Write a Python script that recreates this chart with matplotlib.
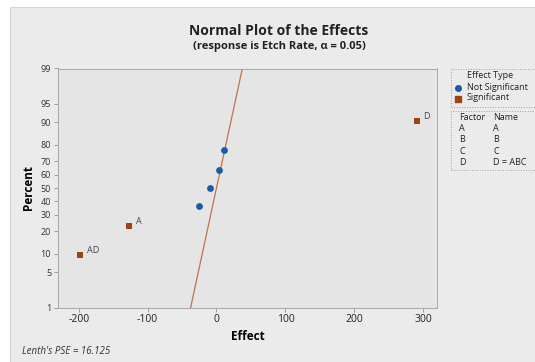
import matplotlib
matplotlib.use("Agg")
from matplotlib import pyplot as plt
from matplotlib.patches import Rectangle
from statistics import NormalDist

# data
terms = ["AD", "A", "AC", "AB", "B", "C", "D"]
effects = [-197.5, -127.0, -25.5, -10.0, 4.0, 11.5, 290.5]
percents = [9.5, 23.0, 36.5, 50.0, 63.5, 77.0, 90.5]
significant = [True, True, False, False, False, False, True]
lenth_pse = 16.125
y_ticks = [1, 5, 10, 20, 30, 40, 50, 60, 70, 80, 90, 95, 99]
x_ticks = [-200, -100, 0, 100, 200, 300]
factors = ["A", "B", "C", "D"]
names = ["A", "B", "C", "D = ABC"]

nd = NormalDist()
z = lambda p: nd.inv_cdf(p / 100.0)

plt.rcParams['font.family'] = ['Open Sans', 'DejaVu Sans']

W, H = 535, 362
fig = plt.figure(figsize=(W / 100, H / 100), dpi=100, facecolor='white')

def fx(px):
    return px / W

def fy(py):
    return 1 - py / H

# grey panel
fig.patches.append(Rectangle((fx(10), 0), 1, fy(7), transform=fig.transFigure,
                             facecolor='#ebebeb', edgecolor='#d0d0d0', lw=0.6, zorder=-5))

ax = fig.add_axes([fx(58), fy(307.5), fx(437) - fx(58), fy(68.5) - fy(307.5)])
ax.set_zorder(2)
ax.set_facecolor('#e5e5e5')

blue = '#1a5aa8'
brown = '#9e4312'

for e, p, s, t in zip(effects, percents, significant, terms):
    if s:
        ax.scatter(e, z(p), marker='s', s=22, color=brown, zorder=3, linewidths=0)
        ax.annotate(t, (e, z(p)), xytext=(5, 0), textcoords='offset points',
                    fontsize=6.5, color='#444444', va='bottom')
    else:
        ax.scatter(e, z(p), marker='o', s=24, color=blue, zorder=3, linewidths=0)

# reference line: effect = PSE * z
z_lo, z_hi = z(y_ticks[0]), z(y_ticks[-1])
ax.plot([lenth_pse * z_lo, lenth_pse * z_hi], [z_lo, z_hi], color='#c0714e', lw=0.9, zorder=2)

ax.set_xlim(-230, 320)
ax.set_ylim(z_lo, z_hi)
ax.set_xticks(x_ticks)
ax.set_xticklabels([str(v) for v in x_ticks], fontsize=7.5, color='#222222')
ax.set_yticks([z(v) for v in y_ticks])
ax.set_yticklabels([str(v) for v in y_ticks], fontsize=6.5, color='#333333')
ax.tick_params(length=3, width=0.6, color='#909090', pad=2)
for sp in ax.spines.values():
    sp.set_color('#a8a8a8')
    sp.set_linewidth(0.7)
ax.set_xlabel('Effect', fontsize=8.5, fontweight='bold', labelpad=3)
ax.set_ylabel('Percent', fontsize=8.5, fontweight='bold', labelpad=4)

fig.text(fx(279), fy(31), 'Normal Plot of the Effects', ha='center', va='center',
         fontsize=10, fontweight='bold', color='#222222')
fig.text(fx(279), fy(47), '(response is Etch Rate, \u03b1 = 0.05)', ha='center', va='center',
         fontsize=8, fontweight='bold', color='#222222')
fig.text(fx(22), fy(352), "Lenth's PSE = 16.125", ha='left', va='center',
         fontsize=7, style='italic', color='#333333')

# legend boxes
for y0, y1 in [(69, 107), (111, 170)]:
    fig.patches.append(Rectangle((fx(451), fy(y1)), 1, fy(y0) - fy(y1), transform=fig.transFigure,
                                 facecolor='none', edgecolor='#a0a0a0', lw=0.7, ls=':'))
fig.text(fx(467), fy(76), 'Effect Type', fontsize=6.5, va='center', color='#222222')
fig.text(fx(467), fy(87), 'Not Significant', fontsize=6.5, va='center', color='#222222')
fig.text(fx(467), fy(98), 'Significant', fontsize=6.5, va='center', color='#222222')
fig.add_artist(plt.Line2D([fx(458)], [fy(88)], marker='o', ms=4, color=blue, lw=0))
fig.add_artist(plt.Line2D([fx(458)], [fy(99)], marker='s', ms=4, color=brown, lw=0))
fig.text(fx(459), fy(118), 'Factor', fontsize=6.5, va='center', color='#222222')
fig.text(fx(493), fy(118), 'Name', fontsize=6.5, va='center', color='#222222')
for i, (f, n) in enumerate(zip(factors, names)):
    fig.text(fx(459), fy(129 + 11 * i), f, fontsize=6.5, va='center', color='#222222')
    fig.text(fx(493), fy(129 + 11 * i), n, fontsize=6.5, va='center', color='#222222')

plt.savefig('out.png', dpi=100, facecolor=fig.get_facecolor())
